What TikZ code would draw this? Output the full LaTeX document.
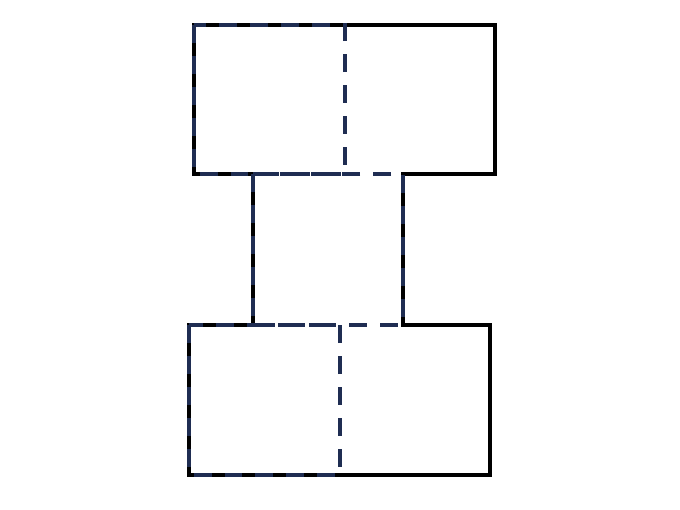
\documentclass[tikz,border=0pt]{standalone}
\usepackage{tikz}
\definecolor{navy}{HTML}{1F2D52}
\begin{document}
\begin{tikzpicture}[x=.02cm,y=-.02cm,
  outline/.style={line width=2.2pt,black,line join=miter},
  half/.style={line width=2.2pt,navy,dash pattern=on 10.2pt off 7.4pt}]
\useasboundingbox(0,0)rectangle(680,510);
\coordinate(A)at(194,25);
\coordinate(B)at(495,25);
\coordinate(C)at(495,174);
\coordinate(D)at(403,174);
\coordinate(E)at(403,325);
\coordinate(F)at(490,325);
\coordinate(G)at(490,475);
\coordinate(H)at(189,475);
\coordinate(I)at(189,325);
\coordinate(J)at(253,325);
\coordinate(K)at(253,174);
\coordinate(L)at(194,174);
\draw[outline](A)--(B)--(C)--(D)--(E)--(F)--(G)--(H)--(I)--(J)--(K)--(L)--cycle;
\draw[half](A)rectangle(345,174);
\draw[half](K)rectangle(E);
\draw[half](I)rectangle(340,475);
\end{tikzpicture}
\end{document}
